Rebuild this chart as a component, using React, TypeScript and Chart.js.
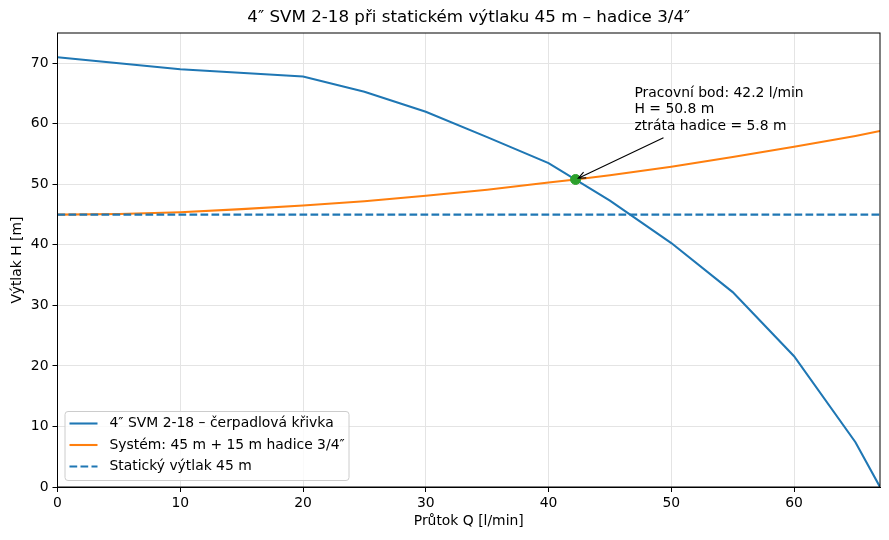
import React, { useEffect, useRef } from "react";
import { Chart, registerables } from "chart.js";

Chart.register(...registerables);

const titleText = "4″ SVM 2-18 při statickém výtlaku 45 m – hadice 3/4″";
const xLabel = "Průtok Q [l/min]";
const yLabel = "Výtlak H [m]";

const pumpQ = [0, 10, 20, 25, 30, 35, 40, 45, 50, 55, 60, 65, 67];
const pumpH = [71, 69, 67.8, 65.3, 62, 57.8, 53.5, 47.3, 40.3, 32.2, 21.6, 7.4, 0];

const sysQ = [0, 5, 10, 15, 20, 25, 30, 35, 40, 42.2, 45, 50, 55, 60, 65, 67];
const sysH = [45, 45.1, 45.4, 45.9, 46.5, 47.2, 48.1, 49.1, 50.3, 50.8, 51.5, 52.9, 54.5, 56.2, 58.0, 58.8];

const staticQ = [0, 67];
const staticH = [45, 45];

const opQ = [42.2];
const opH = [50.8];

const annotationLines = ["Pracovní bod: 42.2 l/min", "H = 50.8 m", "ztráta hadice = 5.8 m"];
const annotationAt = [47, 59];

const legendLabels = [
  "4″ SVM 2-18 – čerpadlová křivka",
  "Systém: 45 m + 15 m hadice 3/4″",
  "Statický výtlak 45 m",
];

const FONT = "'DejaVu Sans', sans-serif";
const FS = 13.9;

const zip = (xs: number[], ys: number[]) => xs.map((x, i) => ({ x, y: ys[i] }));

const overlayPlugin = {
  id: "overlay",
  afterDatasetsDraw(chart: any) {
    const { ctx, chartArea, scales } = chart;
    const xs = scales.x;
    const ys = scales.y;
    ctx.save();
    ctx.strokeStyle = "#000";
    ctx.lineWidth = 1;
    ctx.strokeRect(chartArea.left, chartArea.top, chartArea.right - chartArea.left, chartArea.bottom - chartArea.top);

    // annotation
    const tx = xs.getPixelForValue(annotationAt[0]);
    const ty = ys.getPixelForValue(annotationAt[1]);
    ctx.fillStyle = "#000";
    ctx.font = `${FS}px ${FONT}`;
    ctx.textAlign = "left";
    ctx.textBaseline = "alphabetic";
    const lh = 16.5;
    annotationLines.forEach((l, i) => {
      ctx.fillText(l, tx, ty - (annotationLines.length - 1 - i) * lh);
    });
    const px = xs.getPixelForValue(opQ[0]);
    const py = ys.getPixelForValue(opH[0]);
    const sx = tx + 29;
    const sy = ty + 8;
    const ang = Math.atan2(py - sy, px - sx);
    const ex = px + 3 * Math.cos(ang + Math.PI);
    const ey = py + 3 * Math.sin(ang + Math.PI);
    ctx.strokeStyle = "#000";
    ctx.lineWidth = 1.1;
    ctx.beginPath();
    ctx.moveTo(sx, sy);
    ctx.lineTo(ex, ey);
    const ah = 8;
    ctx.moveTo(ex + ah * Math.cos(ang + Math.PI - 0.4), ey + ah * Math.sin(ang + Math.PI - 0.4));
    ctx.lineTo(ex, ey);
    ctx.lineTo(ex + ah * Math.cos(ang + Math.PI + 0.4), ey + ah * Math.sin(ang + Math.PI + 0.4));
    ctx.stroke();

    // legend
    const lx = chartArea.left + 7;
    const lyTop = chartArea.bottom - 76;
    const lw = 284;
    const lhgt = 69;
    ctx.fillStyle = "rgba(255,255,255,0.8)";
    ctx.strokeStyle = "#cccccc";
    ctx.lineWidth = 1;
    ctx.beginPath();
    (ctx as any).roundRect(lx + 0.5, lyTop + 0.5, lw, lhgt, 3);
    ctx.fill();
    ctx.stroke();
    const colors = ["#1f77b4", "#ff7f0e", "#1f77b4"];
    const dashes = [[], [], [7.7, 3.3]];
    ctx.font = `${FS}px ${FONT}`;
    ctx.textBaseline = "middle";
    legendLabels.forEach((lab, i) => {
      const yy = lyTop + 12.5 + i * 21.5;
      ctx.strokeStyle = colors[i];
      ctx.lineWidth = 2.08;
      ctx.setLineDash(dashes[i]);
      ctx.beginPath();
      ctx.moveTo(lx + 5, yy);
      ctx.lineTo(lx + 33, yy);
      ctx.stroke();
      ctx.setLineDash([]);
      ctx.fillStyle = "#000";
      ctx.fillText(lab, lx + 45, yy);
    });

    // titles
    ctx.fillStyle = "#000";
    ctx.textAlign = "center";
    ctx.textBaseline = "middle";
    ctx.font = `16.7px ${FONT}`;
    const cx = (chartArea.left + chartArea.right) / 2;
    ctx.fillText(titleText, cx, 18);
    ctx.font = `${FS}px ${FONT}`;
    ctx.fillText(xLabel, cx, 521);
    ctx.save();
    ctx.translate(17, (chartArea.top + chartArea.bottom) / 2);
    ctx.rotate(-Math.PI / 2);
    ctx.fillText(yLabel, 0, 0);
    ctx.restore();
    ctx.restore();
  },
};

export default function App() {
  const ref = useRef<HTMLCanvasElement | null>(null);
  useEffect(() => {
    document.body.style.margin = "0";
    if (!ref.current) return;
    const chart = new Chart(ref.current, {
      type: "scatter",
      data: {
        datasets: [
          {
            label: legendLabels[0],
            data: zip(pumpQ, pumpH),
            showLine: true,
            borderColor: "#1f77b4",
            borderWidth: 2.08,
            pointRadius: 0,
            order: 4,
          },
          {
            label: legendLabels[1],
            data: zip(sysQ, sysH),
            showLine: true,
            borderColor: "#ff7f0e",
            borderWidth: 2.08,
            pointRadius: 0,
            order: 3,
          },
          {
            label: legendLabels[2],
            data: zip(staticQ, staticH),
            showLine: true,
            borderColor: "#1f77b4",
            borderWidth: 2.08,
            borderDash: [7.7, 3.3],
            pointRadius: 0,
            order: 2,
          },
          {
            label: "op",
            data: zip(opQ, opH),
            pointRadius: 5,
            pointBackgroundColor: "#2ca02c",
            pointBorderColor: "#2ca02c",
            order: 1,
          },
        ],
      },
      options: {
        responsive: false,
        animation: false,
        layout: { padding: { top: 33, right: 9, left: 0, bottom: 0 } },
        plugins: {
          legend: { display: false },
          tooltip: { enabled: false },
          title: { display: false },
        },
        scales: {
          x: {
            type: "linear",
            min: 0,
            max: 67,
            afterFit: (s: any) => {
              s.height = 53;
            },
            ticks: {
              stepSize: 10,
              includeBounds: false,
              color: "#000",
              font: { family: FONT, size: FS },
              padding: 3,
              maxRotation: 0,
            },
            grid: { color: "#e4e4e4", tickColor: "#000", tickLength: 5 },
            border: { display: true, color: "#000" },
          },
          y: {
            type: "linear",
            min: 0,
            max: 75,
            afterFit: (s: any) => {
              s.width = 57.5;
            },
            ticks: {
              stepSize: 10,
              includeBounds: false,
              color: "#000",
              font: { family: FONT, size: FS },
              padding: 4,
            },
            grid: { color: "#e4e4e4", tickColor: "#000", tickLength: 5 },
            border: { display: true, color: "#000" },
          },
        },
      },
      plugins: [overlayPlugin],
    } as any);
    return () => chart.destroy();
  }, []);
  return (
    <div style={{ position: "absolute", left: 0, top: 0, width: 889, height: 540, background: "#fff" }}>
      <canvas ref={ref} width={889} height={540} style={{ width: 889, height: 540 }} />
    </div>
  );
}
